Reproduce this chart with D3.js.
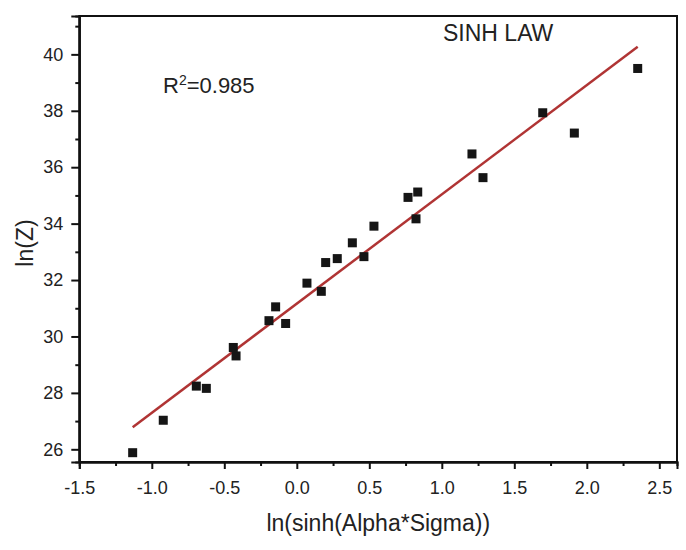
<!DOCTYPE html>
<html>
<head>
<meta charset="utf-8">
<script src="https://cdn.jsdelivr.net/npm/d3@7"></script>
<style>
  html, body { margin: 0; padding: 0; background: #ffffff; }
  svg { display: block; }
  text { font-family: "Liberation Sans", Arial, sans-serif; fill: #222; }
</style>
</head>
<body>
<div id="chart"></div>
<script>
// ---- data ----
const xValues = [-1.132, -0.921, -0.693, -0.624, -0.438, -0.419, -0.192, -0.146, -0.077,
                 0.070, 0.169, 0.199, 0.279, 0.383, 0.463, 0.532, 0.767, 0.834, 0.822,
                 1.208, 1.284, 1.696, 1.914, 2.351];
const yValues = [25.88, 27.03, 28.24, 28.16, 29.61, 29.31, 30.56, 31.05, 30.46,
                 31.89, 31.60, 32.62, 32.76, 33.32, 32.83, 33.91, 34.93, 35.12, 34.17,
                 36.47, 35.63, 37.93, 37.21, 39.50];
const xTicks = [-1.5, -1.0, -0.5, 0.0, 0.5, 1.0, 1.5, 2.0, 2.5];
const xMinorTicks = [-1.25, -0.75, -0.25, 0.25, 0.75, 1.25, 1.75, 2.25];
const yTicks = [26, 28, 30, 32, 34, 36, 38, 40];
const yMinorTicks = [27, 29, 31, 33, 35, 37, 39, 41];
const xDomain = [-1.5, 2.622];
const yDomain = [25.55, 41.36];
const titleText = "SINH LAW";
const r2Value = "0.985";
const xLabel = "ln(sinh(Alpha*Sigma))";
const yLabel = "ln(Z)";

// ---- layout ----
const W = 686, H = 550;
const m = { left: 79.3, right: 9, top: 16, bottom: 88 };

const svg = d3.select("#chart").append("svg").attr("width", W).attr("height", H);

const x = d3.scaleLinear().domain(xDomain).range([m.left, W - m.right]);
const y = d3.scaleLinear().domain(yDomain).range([H - m.bottom, m.top]);

// frame (top & right)
svg.append("rect")
  .attr("x", m.left).attr("y", m.top)
  .attr("width", W - m.right - m.left).attr("height", H - m.bottom - m.top)
  .attr("fill", "none").attr("stroke", "#111").attr("stroke-width", 2);

const fmtX = v => v.toFixed(1);   // plain hyphen-minus like the reference

// axes
const xAxis = svg.append("g").attr("transform", `translate(0,${H - m.bottom})`)
  .call(d3.axisBottom(x).tickValues(xTicks).tickFormat(fmtX).tickSize(7).tickPadding(12));
const xMinor = svg.append("g").attr("transform", `translate(0,${H - m.bottom})`)
  .call(d3.axisBottom(x).tickValues(xMinorTicks).tickFormat("").tickSize(4));
const yAxis = svg.append("g").attr("transform", `translate(${m.left},0)`)
  .call(d3.axisLeft(y).tickValues(yTicks).tickFormat(d => String(d)).tickSize(8).tickPadding(8));
const yMinor = svg.append("g").attr("transform", `translate(${m.left},0)`)
  .call(d3.axisLeft(y).tickValues(yMinorTicks).tickFormat("").tickSize(4));

[xAxis, xMinor, yAxis, yMinor].forEach(g => {
  g.select(".domain").attr("stroke", "#111").attr("stroke-width", 2);
  g.selectAll(".tick line").attr("stroke", "#111").attr("stroke-width", 2);
  g.selectAll(".tick text").attr("font-size", 18).attr("fill", "#222")
    .attr("font-family", "'Liberation Sans', Arial, sans-serif");
});

// regression line (least squares over the data)
const n = xValues.length;
const mx = d3.mean(xValues), my = d3.mean(yValues);
let sxy = 0, sxx = 0;
for (let i = 0; i < n; i++) { sxy += (xValues[i] - mx) * (yValues[i] - my); sxx += (xValues[i] - mx) ** 2; }
const slope = sxy / sxx, intercept = my - slope * mx;
const xr = d3.extent(xValues);
svg.append("path")
  .datum(xr.map(v => [v, intercept + slope * v]))
  .attr("d", d3.line().x(d => x(d[0])).y(d => y(d[1])))
  .attr("fill", "none").attr("stroke", "#b03434").attr("stroke-width", 2.5);

// points
const s = 9;
svg.append("g").selectAll("rect")
  .data(xValues.map((v, i) => [v, yValues[i]]))
  .join("rect")
  .attr("x", d => x(d[0]) - s / 2).attr("y", d => y(d[1]) - s / 2)
  .attr("width", s).attr("height", s)
  .attr("fill", "#151515");

// annotations
svg.append("text").attr("x", 443).attr("y", 40.5).attr("font-size", 23).text(titleText);
const r2 = svg.append("text").attr("x", 163).attr("y", 93.3).attr("font-size", 22);
r2.append("tspan").text("R");
r2.append("tspan").attr("font-size", 14).attr("dy", -8).text("2");
r2.append("tspan").attr("dy", 8).text("=" + r2Value);

// axis titles
svg.append("text").attr("x", 378.3).attr("y", 531).attr("text-anchor", "middle")
  .attr("font-size", 23).text(xLabel);
svg.append("text").attr("transform", "translate(33,243) rotate(-90)")
  .attr("text-anchor", "middle").attr("font-size", 23).text(yLabel);
</script>
</body>
</html>
